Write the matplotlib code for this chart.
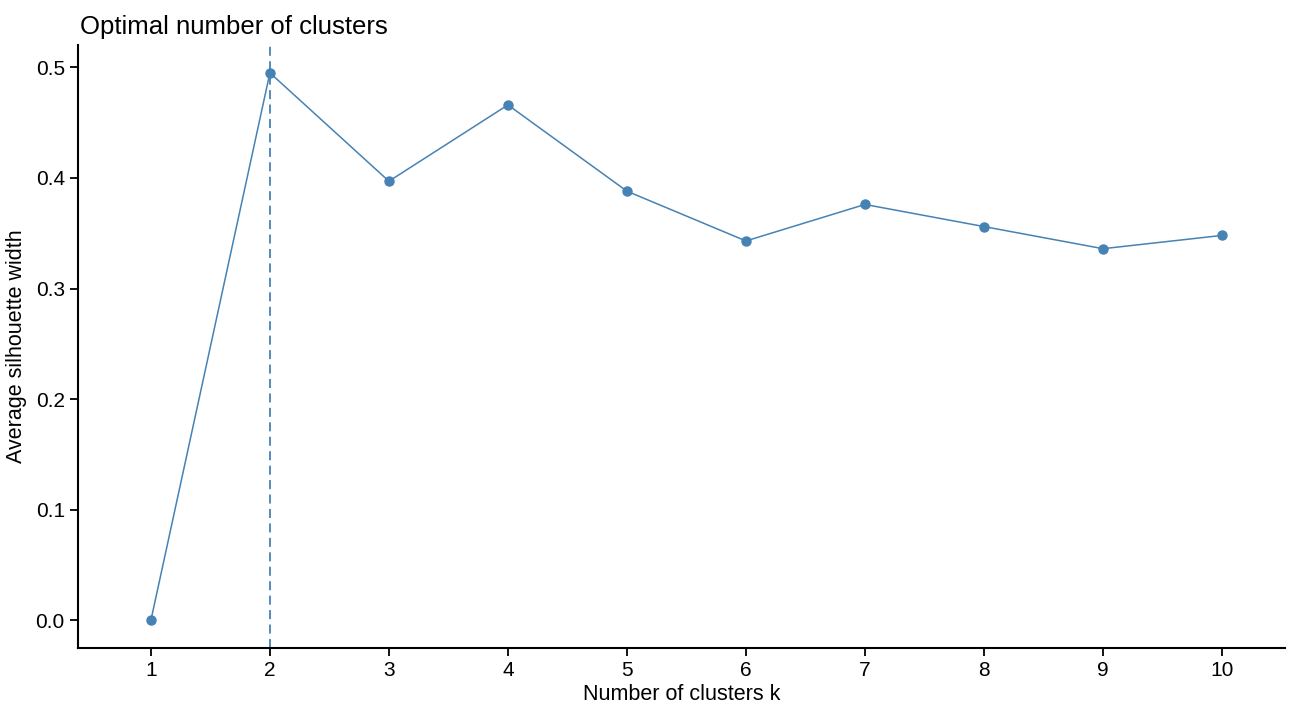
import matplotlib.pyplot as plt

plt.rcParams['font.family'] = ['Liberation Sans', 'DejaVu Sans']

# Silhouette data
k_values = [1, 2, 3, 4, 5, 6, 7, 8, 9, 10]
silhouette = [0.0, 0.495, 0.397, 0.466, 0.388, 0.343, 0.376, 0.356, 0.336, 0.348]
optimal_k = 2
color = '#4682B4'

fig = plt.figure(figsize=(12.97, 7.05), dpi=100)
ax = fig.add_axes([0.0601, 0.0809, 0.9307, 0.855])

ax.plot(k_values, silhouette, color=color, linewidth=1.1, marker='o', markersize=6.5)
ax.axvline(optimal_k, color=color, linestyle=(0, (5, 3)), linewidth=1.3)

ax.set_xlim(0.387, 10.53)
ax.set_ylim(-0.025, 0.52)
ax.set_xticks(k_values)
ax.set_yticks([0.0, 0.1, 0.2, 0.3, 0.4, 0.5])
ax.set_yticklabels(['0.0', '0.1', '0.2', '0.3', '0.4', '0.5'])

for side in ['top', 'right']:
    ax.spines[side].set_visible(False)
for side in ['left', 'bottom']:
    ax.spines[side].set_linewidth(1.5)
    ax.spines[side].set_color('black')
ax.tick_params(axis='both', labelsize=15, width=1.3, length=6, color='black', labelcolor='black')

ax.set_xlabel('Number of clusters k', fontsize=15.5, labelpad=3)
ax.set_ylabel('Average silhouette width', fontsize=15.5, labelpad=6)
ax.set_title('Optimal number of clusters', fontsize=18.5, loc='left', x=0.002, pad=8)

fig.savefig('out.png', dpi=100)
